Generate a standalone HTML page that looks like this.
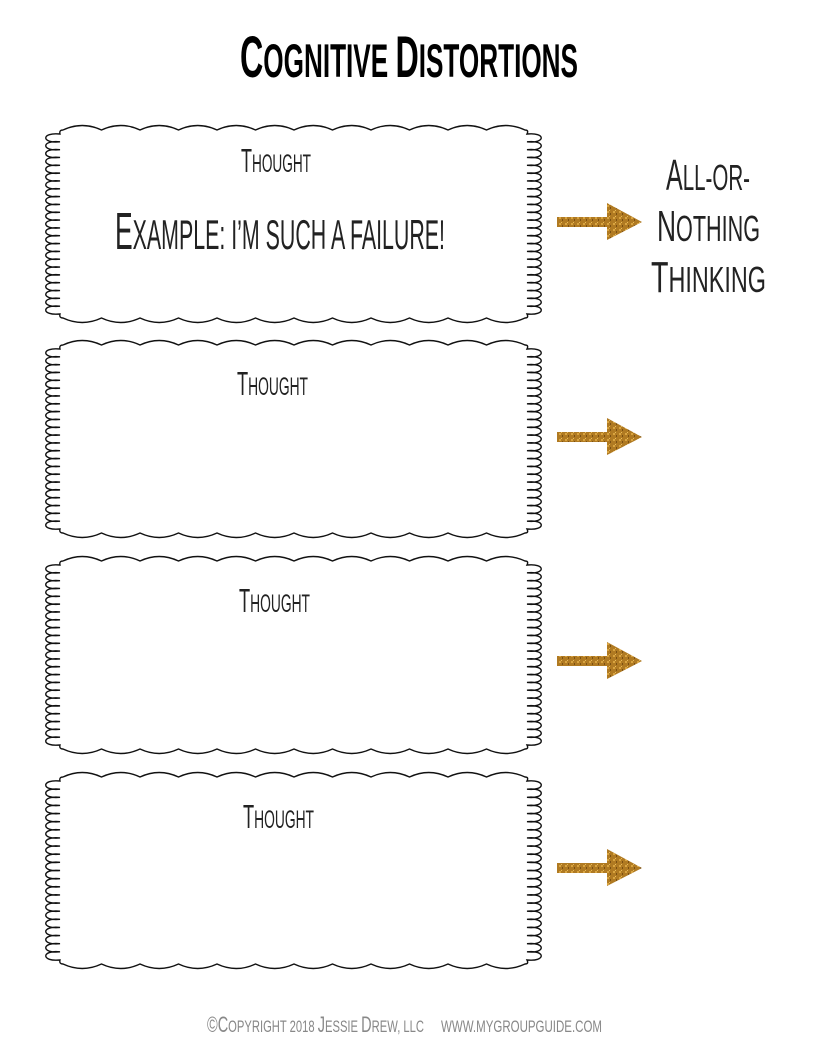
<!DOCTYPE html>
<html><head><meta charset="utf-8"><style>
html,body{margin:0;padding:0;background:#fff;}
svg{display:block}
text{font-family:"Liberation Sans",sans-serif;}
</style></head><body>
<svg id="s" width="816" height="1056" viewBox="0 0 816 1056" xmlns="http://www.w3.org/2000/svg">
<defs>
<pattern id="gl" width="6" height="6" patternUnits="userSpaceOnUse">
<rect width="6" height="6" fill="#b07a22"/>
<rect x="1" y="1" width="2" height="2" fill="#d9a440"/>
<rect x="4" y="3" width="1" height="2" fill="#7a4f12"/>
<rect x="3" y="0" width="1" height="1" fill="#e8bb5a"/>
</pattern>
</defs>
<g id="boxes" fill="none" stroke="#111" stroke-width="1.4"></g>
<g fill="url(#gl)">
<path d="M557 217 H607 V203 L642 222 L607 240 V227 H557 Z"/>
<path d="M557 432 H607 V418 L642 437 L607 455 V442 H557 Z"/>
<path d="M557 656 H607 V642 L642 661 L607 679 V666 H557 Z"/>
<path d="M557 863 H607 V849 L642 868 L607 886 V873 H557 Z"/>
</g>
<text x="240" y="77" textLength="338" lengthAdjust="spacingAndGlyphs" font-weight="bold" fill="#000"><tspan font-size="58">C</tspan><tspan font-size="47">OGNITIVE </tspan><tspan font-size="58">D</tspan><tspan font-size="47">ISTORTIONS</tspan></text>
<g fill="#222" font-weight="normal">
<text x="241" y="172" textLength="70" lengthAdjust="spacingAndGlyphs"><tspan font-size="33">T</tspan><tspan font-size="25">HOUGHT</tspan></text>
<text x="237" y="395" textLength="71" lengthAdjust="spacingAndGlyphs"><tspan font-size="33">T</tspan><tspan font-size="25">HOUGHT</tspan></text>
<text x="239" y="612" textLength="71" lengthAdjust="spacingAndGlyphs"><tspan font-size="33">T</tspan><tspan font-size="25">HOUGHT</tspan></text>
<text x="243" y="828" textLength="71" lengthAdjust="spacingAndGlyphs"><tspan font-size="33">T</tspan><tspan font-size="25">HOUGHT</tspan></text>
<text x="115" y="249" textLength="330" lengthAdjust="spacingAndGlyphs"><tspan font-size="52">E</tspan><tspan font-size="42">XAMPLE: I’M SUCH A FAILURE!</tspan></text>
<text x="666" y="190" textLength="84" lengthAdjust="spacingAndGlyphs"><tspan font-size="44">A</tspan><tspan font-size="36">LL-OR-</tspan></text>
<text x="657" y="241" textLength="103" lengthAdjust="spacingAndGlyphs"><tspan font-size="44">N</tspan><tspan font-size="36">OTHING</tspan></text>
<text x="651" y="292" textLength="115" lengthAdjust="spacingAndGlyphs"><tspan font-size="44">T</tspan><tspan font-size="36">HINKING</tspan></text>
</g>
<text x="207" y="1032" textLength="217" lengthAdjust="spacingAndGlyphs" fill="#888"><tspan font-size="22">©C</tspan><tspan font-size="17">OPYRIGHT 2018 </tspan><tspan font-size="22">J</tspan><tspan font-size="17">ESSIE </tspan><tspan font-size="22">D</tspan><tspan font-size="17">REW, LLC</tspan></text>
<text x="441" y="1032" textLength="161" lengthAdjust="spacingAndGlyphs" fill="#888" font-size="17">WWW.MYGROUPGUIDE.COM</text>
</svg>
<script>
(function(){
var g=document.getElementById('boxes');
var boxes=[[125,323],[340,538],[556,754],[772,969]];
boxes.forEach(function(b){
  var y0=b[0],y1=b[1],xl=42,xr=545,sx0=63,sx1=525;
  var n=12,w=(sx1-sx0)/n,d='';
  d+='M'+sx0+' '+(y0+5);
  for(var i=0;i<n;i++){var a=sx0+i*w;d+=' Q'+(a+w/2)+' '+(y0-4)+' '+(a+w)+' '+(y0+5);}
  var cy0=y0+9,cy1=y1-9,m=Math.round((cy1-cy0)/8),h=(cy1-cy0)/m;
  d+=' Q'+(sx1+4)+' '+(y0+5)+' '+(xr-18)+' '+cy0;
  for(var j=0;j<m;j++){var y=cy0+j*h;d+=' C'+(xr+1)+' '+(y-2)+' '+(xr+1)+' '+(y+h+2)+' '+(xr-18)+' '+(y+h);}
  d+=' Q'+(sx1+4)+' '+(y1-5)+' '+sx1+' '+(y1-5);
  for(var i=0;i<n;i++){var a=sx1-i*w;d+=' Q'+(a-w/2)+' '+(y1+4)+' '+(a-w)+' '+(y1-5);}
  d+=' Q'+(sx0-4)+' '+(y1-5)+' '+(xl+18)+' '+cy1;
  for(var j=0;j<m;j++){var y=cy1-j*h;d+=' C'+(xl-1)+' '+(y+2)+' '+(xl-1)+' '+(y-h-2)+' '+(xl+18)+' '+(y-h);}
  d+=' Q'+(sx0-4)+' '+(y0+5)+' '+sx0+' '+(y0+5);
  var p=document.createElementNS('http://www.w3.org/2000/svg','path');
  p.setAttribute('d',d);g.appendChild(p);
});
})();
</script>
</body></html>
